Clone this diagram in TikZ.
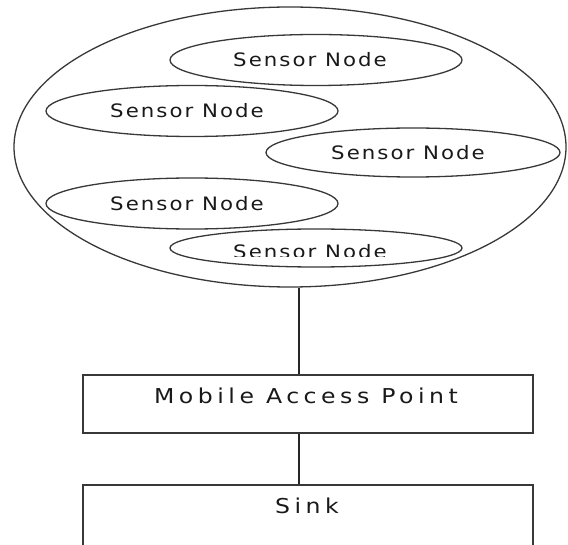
\documentclass[tikz,border=0pt]{standalone}
\usepackage{fontspec}
\usetikzlibrary{shapes.geometric}
\newfontfamily\sensorfont{DejaVu Sans}[LetterSpace=11, FakeStretch=1.15]
\newfontfamily\boxfont{DejaVu Sans}[LetterSpace=22, FakeStretch=1.15]
\begin{document}
\begin{tikzpicture}[x=1pt,y=-1pt,
  outline/.style={draw=black!78, line width=1.3pt},
  sensor/.style={outline, ellipse, inner sep=0pt, minimum width=292pt, minimum height=51pt},
  boxnode/.style={outline, rectangle, inner sep=0pt, minimum width=450pt},
  caption/.style={font=\sensorfont\fontsize{18.5}{20}\selectfont, inner sep=0pt, text=black!90},
  bigcaption/.style={font=\boxfont\fontsize{20.5}{22}\selectfont, inner sep=0pt, text=black!90},
  link/.style={draw=black!85, line width=1.4pt}]
\useasboundingbox (0,0) rectangle (568,545);
\clip (0,0) rectangle (568,545);

% sensor field
\node[outline, ellipse, inner sep=0pt, minimum width=552pt, minimum height=280pt] (field) at (290,147) {};

% sensor nodes
\node[sensor] (s1) at (316,60) {};
\node[sensor] (s2) at (192,111) {};
\node[sensor, minimum width=294pt, minimum height=49pt] (s3) at (413,152.5) {};
\node[sensor] (s4) at (192,203.5) {};
\node[sensor, minimum height=38pt] (s5) at (316,248) {};

\node[caption] (s1text) at ([xshift=-6pt]s1.center) {Sensor Node};
\node[caption] (s2text) at ([xshift=-5pt]s2.center) {Sensor Node};
\node[caption] (s3text) at ([xshift=-5pt]s3.center) {Sensor Node};
\node[caption] (s4text) at ([xshift=-5pt]s4.center) {Sensor Node};
\begin{scope}
  \clip (150,230) rectangle (480,256.5);
  \node[caption] (s5text) at ([xshift=-6pt, yshift=-4pt]s5.center) {Sensor Node};
\end{scope}

% access point and sink
\node[boxnode, minimum height=58pt] (map) at (308,404) {};
\node[bigcaption] (maptext) at (306,396) {Mobile Access Point};
\node[boxnode, minimum height=80pt] (sink) at (308,525) {};
\node[bigcaption] (sinktext) at (307,505.5) {Sink};

% links
\coordinate (tap) at (299,0);
\draw[link] (field.south -| tap) -- (map.north -| tap);
\draw[link] (map.south -| tap) -- (sink.north -| tap);
\end{tikzpicture}
\end{document}
